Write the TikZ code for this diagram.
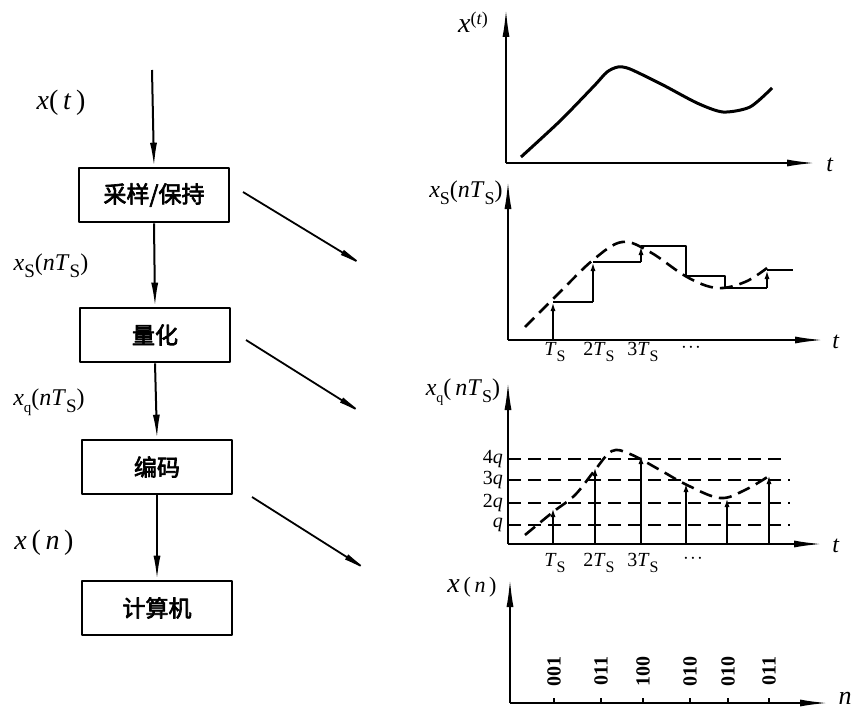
\documentclass[tikz,border=0pt]{standalone}
\usepackage{fontspec}
\setmainfont{Liberation Serif}
\newfontfamily\cjk[FakeBold=3]{Noto Sans CJK SC}
\usetikzlibrary{arrows.meta}
\newcommand\lsub[2]{\raisebox{-0.28em}{\fontsize{#1}{#1}\selectfont #2}}
\begin{document}
\begin{tikzpicture}[x=1pt,y=-1pt,line join=round,
  blk/.style={draw,line width=2.6pt,minimum width=150pt,minimum height=54pt,inner sep=0pt,font=\cjk\fontsize{23}{23}\selectfont},
  flow/.style={line width=2pt,-{Latex[length=24pt,width=7pt]}},
  diag/.style={line width=1.8pt,-{Latex[length=30pt,width=6pt]}},
  axis/.style={line width=1.8pt,-{Latex[length=28pt,width=7pt]}},
  lbl/.style={font=\fontsize{28}{28}\selectfont,inner sep=0pt},
  slbl/.style={font=\fontsize{24}{24}\selectfont,inner sep=0pt},
  glbl/.style={font=\fontsize{20}{20}\selectfont,inner sep=0pt},
  curve/.style={line width=3pt},
  dcurve/.style={line width=2.6pt,dash pattern=on 13pt off 7pt},
  level/.style={line width=1.6pt,dash pattern=on 13pt off 7pt},
  stem/.style={line width=1.9pt},
  stemtip/.style={line width=1.9pt,-{Latex[length=9pt,width=5pt]}},
  code/.style={rotate=90,font=\bfseries\fontsize{20}{20}\selectfont,inner sep=0pt}]
\useasboundingbox (0,0) rectangle (860,709);

% ---------------- left chain ----------------
\node[blk] (sh) at (154,195) {采样/保持};
\node[blk] (qz) at (155,335) {量化};
\node[blk] (ec) at (157,467) {编码};
\node[blk] (pc) at (157,608) {计算机};
\coordinate (in) at (152,70);
\draw[flow] (in) -- (sh.north);
\draw[flow] (sh.south) -- (qz.north);
\draw[flow] (qz.south) -- (ec.north);
\draw[flow] (ec.south) -- (pc.north);

\node[lbl] (lxt) at (61,103) {\textit{x}(\,\textit{t}\,)};
\node[slbl] (lxs) at (51,266) {\textit{x}\lsub{19}{S}(\textit{nT}\lsub{19}{S})};
\node[slbl] (lxq) at (49,402) {\textit{x}\lsub{15}{q}(\textit{nT}\lsub{19}{S})};
\node[lbl] (lxn) at (44,543) {\textit{x}\,(\,\textit{n}\,)};

% diagonal arrows
\coordinate (d1s) at (243,192); \coordinate (d1e) at (368,268);
\coordinate (d2s) at (246,340); \coordinate (d2e) at (367,416);
\coordinate (d3s) at (252,497); \coordinate (d3e) at (372,573);
\draw[diag] (d1s) -- (d1e);
\draw[diag] (d2s) -- (d2e);
\draw[diag] (d3s) -- (d3e);

% ---------------- graph 1 ----------------
\coordinate (o1) at (506,163);
\coordinate (y1) at (506,9);
\coordinate (x1) at (815,163);
\draw[axis] (o1) -- (y1);
\draw[axis] (o1) -- (x1);
\node[inner sep=0pt] (g1y) at (473,22) {\fontsize{28}{28}\selectfont\textit{x}\raisebox{0.3em}{\fontsize{18}{18}\selectfont(\textit{t})}};
\node[slbl] (g1x) at (830,165) {\textit{t}};
\draw[curve] plot[smooth,tension=0.45] coordinates {(521,157) (560,121) (594,86) (607,72) (618,67) (630,69) (663,85) (697,103) (723,112) (750,107) (772,88)};

% ---------------- graph 2 ----------------
\coordinate (o2) at (508,340);
\coordinate (y2) at (508,181);
\coordinate (x2) at (823,340);
\draw[axis] (o2) -- (y2);
\draw[axis] (o2) -- (x2);
\node[slbl] (g2y) at (466,193) {\textit{x}\lsub{18}{S}(\textit{nT}\lsub{18}{S})};
\node[slbl] (g2x) at (836,342) {\textit{t}};
\draw[dcurve] plot[smooth,tension=0.6] coordinates {(525,327) (560,292) (593,260) (622,242) (650,252) (687,277) (717,288) (745,282) (767,268)};
\draw[stemtip] (553,340) -- (553,302);
\draw[stem] (553,302) -- (593,302);
\draw[stemtip] (593,302) -- (593,262);
\draw[stem] (593,262) -- (641,262);
\draw[stemtip] (641,262) -- (641,246);
\draw[stem] (641,246) -- (686,246) -- (686,276) -- (725,276) -- (725,288) -- (767,288);
\draw[stemtip] (767,288) -- (767,270);
\draw[stem] (767,270) -- (793,270);
\node[glbl] (t21) at (555,352) {\textit{T}\lsub{16}{S}};
\node[glbl] (t22) at (599,352) {2\textit{T}\lsub{16}{S}};
\node[glbl] (t23) at (643,352) {3\textit{T}\lsub{16}{S}};
\node[glbl] (t2d) at (691,348) {$\cdot\!\cdot\!\cdot$};

% ---------------- graph 3 ----------------
\coordinate (o3) at (508,544);
\coordinate (y3) at (508,382);
\coordinate (x3) at (822,544);
\draw[level] (508,459) -- (788,459);
\draw[level] (508,480) -- (790,480);
\draw[level] (508,503) -- (790,503);
\draw[level] (508,525) -- (790,525);
\draw[axis] (o3) -- (y3);
\draw[axis] (o3) -- (x3);
\node[slbl] (g3y) at (463,392) {\textit{x}\lsub{14}{q}(\,\textit{nT}\lsub{18}{S})};
\node[slbl] (g3x) at (836,546) {\textit{t}};
\node[glbl,anchor=east] (l4) at (503,459) {4\textit{q}};
\node[glbl,anchor=east] (l3) at (503,480) {3\textit{q}};
\node[glbl,anchor=east] (l2) at (503,503) {2\textit{q}};
\node[glbl,anchor=east] (l1) at (503,525) {\textit{q}};
\draw[dcurve] plot[smooth,tension=0.6] coordinates {(525,535) (553,512) (575,495) (595,470) (612,451) (630,454) (660,470) (687,485) (720,498) (745,490) (769,476)};
\draw[stemtip] (553,544) -- (553,508);
\draw[stemtip] (595,544) -- (595,467);
\draw[stemtip] (641,544) -- (641,455);
\draw[stemtip] (686,544) -- (686,483);
\draw[stemtip] (727,544) -- (727,498);
\draw[stemtip] (769,544) -- (769,475);
\node[glbl] (t31) at (555,563) {\textit{T}\lsub{16}{S}};
\node[glbl] (t32) at (599,563) {2\textit{T}\lsub{16}{S}};
\node[glbl] (t33) at (643,563) {3\textit{T}\lsub{16}{S}};
\node[glbl] (t3d) at (693,559) {$\cdot\!\cdot\!\cdot$};

% ---------------- graph 4 ----------------
\coordinate (o4) at (510,703);
\coordinate (y4) at (510,579);
\coordinate (x4) at (828,703);
\draw[axis] (o4) -- (y4);
\draw[axis] (o4) -- (x4);
\node[slbl] (g4y) at (472,587) {\fontsize{28}{28}\selectfont\textit{x}\fontsize{22}{22}\selectfont\,(\,\textit{n}\,)};
\node[inner sep=0pt] (g4x) at (845,698) {\fontsize{26}{26}\selectfont\textit{n}};
\foreach \xx in {554,601,643,690,728,769} \draw[line width=1.4pt] (\xx,703) -- (\xx,698);
\node[code] (c1) at (554,671) {001};
\node[code] (c2) at (601,671) {011};
\node[code] (c3) at (643,671) {100};
\node[code] (c4) at (690,671) {010};
\node[code] (c5) at (728,671) {010};
\node[code] (c6) at (769,671) {011};
\end{tikzpicture}
\end{document}
